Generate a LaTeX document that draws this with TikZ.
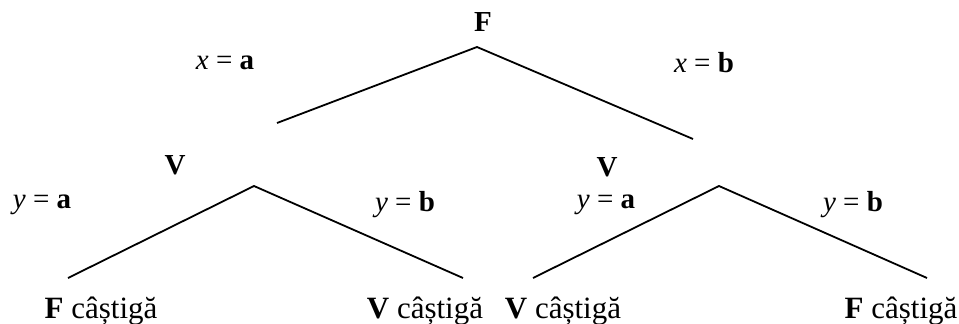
\documentclass[tikz,border=0pt]{standalone}
\usepackage{fontspec}
\setmainfont{Liberation Serif}
\begin{document}
\begin{tikzpicture}[x=1pt,y=-1pt,
  lbl/.style={inner sep=0pt,font=\fontsize{29}{33}\selectfont},
  outc/.style={inner sep=0pt,anchor=base,font=\fontsize{31}{35}\selectfont},
  edge/.style={line width=1.8pt}]
\useasboundingbox (0,0) rectangle (959,324);
% top level
\node[lbl] (F) at (483,22) {\textbf{F}};
\coordinate (a0) at (477,47);
\coordinate (t1) at (277,123);
\coordinate (t2) at (693,139);
\draw[edge] (t1) -- (a0) -- (t2);
\node[lbl] (xa) at (225,63) {\textit{x} = \textbf{a}};
\node[lbl] (xb) at (704,63) {\textit{x} = \textbf{b}};
% left subtree
\node[lbl] (V1) at (175,165) {\textbf{V}};
\coordinate (a1) at (254,186);
\coordinate (l1) at (68,278);
\coordinate (l2) at (463,278);
\draw[edge] (l1) -- (a1) -- (l2);
\node[lbl] (ya1) at (42,205) {\textit{y} = \textbf{a}};
\node[lbl] (yb1) at (405,205) {\textit{y} = \textbf{b}};
% right subtree
\node[lbl] (V2) at (607,167) {\textbf{V}};
\coordinate (a2) at (719,186);
\coordinate (r1) at (533,278);
\coordinate (r2) at (927,278);
\draw[edge] (r1) -- (a2) -- (r2);
\node[lbl] (ya2) at (606,205) {\textit{y} = \textbf{a}};
\node[lbl] (yb2) at (853,205) {\textit{y} = \textbf{b}};
% outcomes
\node[outc] (o1) at (101,318) {\textbf{F} câștigă};
\node[outc] (o2) at (425,318) {\textbf{V} câștigă};
\node[outc] (o3) at (563,318) {\textbf{V} câștigă};
\node[outc] (o4) at (901,318) {\textbf{F} câștigă};
\end{tikzpicture}
\end{document}
